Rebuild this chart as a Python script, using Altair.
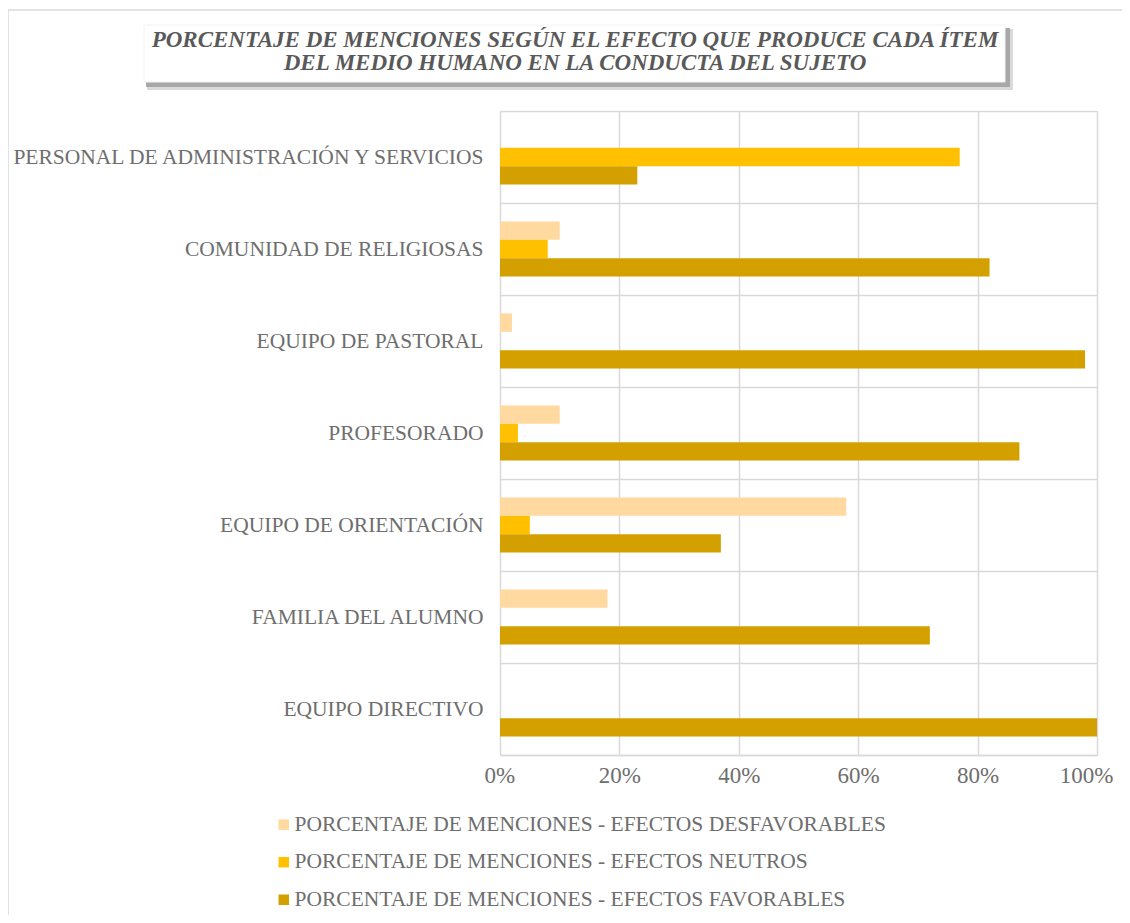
import altair as alt
import pandas as pd

title_lines = [
    "PORCENTAJE DE MENCIONES SEGÚN EL EFECTO QUE PRODUCE CADA ÍTEM",
    "DEL MEDIO HUMANO EN LA CONDUCTA DEL SUJETO",
]
categories = [
    "PERSONAL DE ADMINISTRACIÓN Y SERVICIOS",
    "COMUNIDAD DE RELIGIOSAS",
    "EQUIPO DE PASTORAL",
    "PROFESORADO",
    "EQUIPO DE ORIENTACIÓN",
    "FAMILIA DEL ALUMNO",
    "EQUIPO DIRECTIVO",
]
series = [
    "PORCENTAJE DE MENCIONES - EFECTOS DESFAVORABLES",
    "PORCENTAJE DE MENCIONES - EFECTOS NEUTROS",
    "PORCENTAJE DE MENCIONES - EFECTOS FAVORABLES",
]
desfavorables = [0, 10, 2, 10, 58, 18, 0]
neutros = [77, 8, 0, 3, 5, 0, 0]
favorables = [23, 82, 98, 87, 37, 72, 100]
colors = ["#FFD9A0", "#FFC000", "#D4A000"]
x_ticks = [0, 0.2, 0.4, 0.6, 0.8, 1.0]

rows = []
for name, vals in zip(series, [desfavorables, neutros, favorables]):
    for cat, v in zip(categories, vals):
        rows.append({"categoria": cat, "serie": name, "valor": v / 100})
df = pd.DataFrame(rows)

FONT = "Liberation Serif"
TXT = "#6E6E6E"

bars = (
    alt.Chart(df)
    .mark_bar()
    .encode(
        y=alt.Y(
            "categoria:N",
            sort=categories,
            title=None,
            scale=alt.Scale(paddingInner=0, paddingOuter=0),
            axis=alt.Axis(
                grid=True,
                tickBand="extent",
                ticks=False,
                domain=False,
                gridColor="#D9D9D9",
                gridWidth=1.5,
                labelFont=FONT,
                labelFontSize=21.5,
                labelColor=TXT,
                labelPadding=17,
                labelLimit=700,
            ),
        ),
        yOffset=alt.YOffset(
            "serie:N",
            sort=series,
            scale=alt.Scale(paddingOuter=1.0, paddingInner=0),
        ),
        x=alt.X(
            "valor:Q",
            title=None,
            scale=alt.Scale(domain=[0, 1], nice=False),
            axis=alt.Axis(
                values=x_ticks,
                format="%",
                grid=True,
                gridColor="#D9D9D9",
                gridWidth=1.5,
                ticks=False,
                domain=True,
                domainColor="#D9D9D9",
                domainWidth=1.5,
                labelFont=FONT,
                labelFontSize=23,
                labelColor=TXT,
                labelPadding=9,
                labelFlush=True,
                labelFlushOffset=16,
            ),
        ),
        color=alt.Color(
            "serie:N",
            sort=series,
            scale=alt.Scale(domain=series, range=colors),
            legend=alt.Legend(
                title=None,
                orient="none",
                legendX=-227,
                legendY=703,
                direction="vertical",
                symbolType="square",
                symbolSize=110,
                symbolStrokeWidth=0,
                labelFont=FONT,
                labelFontSize=21.5,
                labelColor=TXT,
                labelOffset=0,
                rowPadding=14.5,
                labelLimit=900,
            ),
        ),
    )
)

one = alt.Data(values=[{"k": 1}])
frame = alt.Chart(one).mark_rect(fill=None, stroke="#D9D9D9", strokeWidth=1.5).encode(
    x=alt.value(-492), x2=alt.value(640), y=alt.value(-101), y2=alt.value(820)
)
shadow2 = alt.Chart(one).mark_rect(color="#DADADA").encode(
    x=alt.value(-353), x2=alt.value(513), y=alt.value(-82), y2=alt.value(-21)
)
shadow1 = alt.Chart(one).mark_rect(color="#A8A8A8").encode(
    x=alt.value(-354), x2=alt.value(510), y=alt.value(-83), y2=alt.value(-24)
)
box = alt.Chart(one).mark_rect(color="#FFFFFF", stroke="#F2F2F2", strokeWidth=1).encode(
    x=alt.value(-356), x2=alt.value(505), y=alt.value(-86), y2=alt.value(-29)
)
title_marks = [
    alt.Chart(one)
    .mark_text(
        font=FONT,
        fontSize=23,
        fontStyle="italic",
        fontWeight="bold",
        color="#595959",
        align="center",
        baseline="middle",
    )
    .encode(text=alt.value(line), x=alt.value(75), y=alt.value(yy))
    for line, yy in zip(title_lines, [-71, -48])
]

chart = (
    alt.layer(frame, shadow2, shadow1, box, *title_marks, bars)
    .properties(
        width=597,
        height=644,
        autosize=alt.AutoSizeParams(type="none"),
        padding={"left": 492, "top": 103, "right": 25, "bottom": 160},
    )
    .configure_view(stroke="#EEEEEE", strokeWidth=1)
)

chart.save("out.html", embed_options={"renderer": "svg", "actions": False})
